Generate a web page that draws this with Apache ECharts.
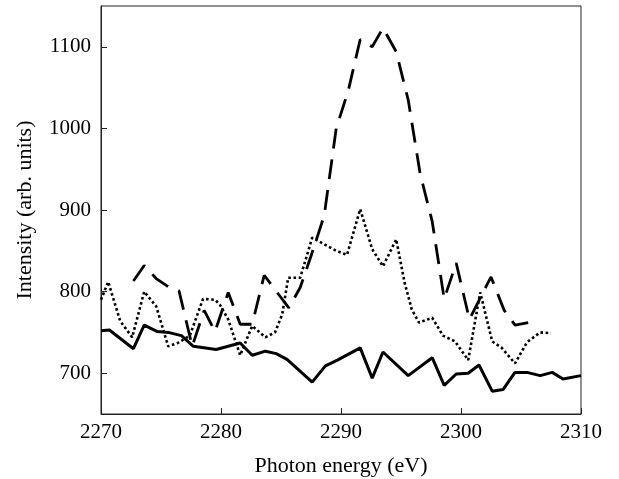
<!DOCTYPE html>
<html>
<head>
<meta charset="utf-8">
<script src="https://cdn.jsdelivr.net/npm/echarts@6/dist/echarts.min.js"></script>
<style>
html,body{margin:0;padding:0;background:#fff;}
#chart{width:619px;height:479px;}
</style>
</head>
<body>
<div id="chart"></div>
<script>
// Photon energy (eV) / intensity pairs
var solidE = [2270, 2270.7, 2272.7, 2273.6, 2274.7, 2275.6, 2276.7, 2277.7, 2279.6, 2281.6, 2282.6, 2283.7, 2284.6, 2285.5, 2286.4, 2287.6, 2288.7, 2289.7, 2291.6, 2292.6, 2293.5, 2295.6, 2297.6, 2298.6, 2299.6, 2300.6, 2301.5, 2302.6, 2303.5, 2304.5, 2305.5, 2306.6, 2307.6, 2308.5, 2310];
var solidV = [752, 753, 730, 759, 751, 750, 746, 733, 729, 737, 722, 727, 724, 717, 705, 689, 709, 716, 731, 694, 726, 697, 719, 685, 699, 700, 710, 678, 680, 701, 701, 697, 701, 693, 697];

var dashE = [2272.7, 2273.6, 2274.6, 2275.6, 2276.5, 2277.6, 2278.6, 2279.5, 2280.6, 2281.6, 2282.6, 2283.6, 2285.65, 2286.6, 2287.6, 2288.6, 2289.6, 2290.6, 2291.6, 2292.6, 2293.5, 2294.6, 2295.6, 2296.6, 2297.6, 2298.6, 2299.6, 2300.7, 2302.5, 2303.6, 2304.5, 2305.6];
var dashV = [813, 832, 816, 806, 801, 733, 777, 751, 799, 760, 760, 820, 780, 805, 848, 893, 1000, 1046, 1109, 1100, 1123, 1094, 1035, 944, 886, 791, 835, 766, 818, 777, 759, 762];

var dotE = [2270, 2270.6, 2271.6, 2272.6, 2273.6, 2274.6, 2275.6, 2276.4, 2277.4, 2278.5, 2279.5, 2279.9, 2280.6, 2281.6, 2282.6, 2283.7, 2284.5, 2285.1, 2285.6, 2286.6, 2287.6, 2288.6, 2289.6, 2290.5, 2291.6, 2292.6, 2293.5, 2294.6, 2295.3, 2295.9, 2296.5, 2297.6, 2298.5, 2299.5, 2300.6, 2301.6, 2302.6, 2303.4, 2304.5, 2305.5, 2306.6, 2307.5];
var dotV = [790, 812, 764, 744, 800, 782, 733, 737, 746, 791, 790, 784, 766, 722, 758, 744, 750, 772, 817, 817, 866, 858, 850, 845, 901, 852, 831, 864, 811, 778, 762, 768, 746, 739, 716, 799, 739, 731, 712, 738, 750, 749];

var xTicks = [2270, 2280, 2290, 2300, 2310];
var yTicks = [700, 800, 900, 1000, 1100];

function pairs(xs, ys) { return xs.map(function (x, i) { return [x, ys[i]]; }); }
function plain(v) { return String(v); }

var font = 'Liberation Serif';
var chart = echarts.init(document.getElementById('chart'));
chart.setOption({
  animation: false,
  backgroundColor: '#fff',
  grid: { left: 101, right: 38, top: 6, bottom: 65, containLabel: false, outerBoundsMode: 'none', show: true, borderColor: '#222', borderWidth: 1, backgroundColor: 'transparent' },
  xAxis: {
    type: 'value', min: 2270, max: 2310, interval: 10,
    name: 'Photon energy (eV)', nameLocation: 'middle', nameGap: 41,
    nameTextStyle: { fontFamily: font, fontSize: 22, color: '#000' },
    axisLine: { lineStyle: { color: '#222', width: 1 } },
    axisTick: { inside: true, length: 6, lineStyle: { color: '#222' }, customValues: xTicks },
    axisLabel: { fontFamily: font, fontSize: 21, color: '#000', margin: 8, customValues: xTicks, formatter: plain },
    splitLine: { show: false }
  },
  yAxis: {
    type: 'value', min: 650, max: 1150, interval: 50,
    name: 'Intensity (arb. units)', nameLocation: 'middle', nameGap: 65,
    nameTextStyle: { fontFamily: font, fontSize: 22, color: '#000' },
    axisLine: { show: true, lineStyle: { color: '#222', width: 1 } },
    axisTick: { show: true, inside: true, length: 6, lineStyle: { color: '#222' }, customValues: yTicks },
    axisLabel: { fontFamily: font, fontSize: 21, color: '#000', margin: 10, customValues: yTicks, formatter: plain },
    splitLine: { show: false }
  },
  series: [
    { type: 'line', data: pairs(solidE, solidV), showSymbol: false, lineStyle: { color: '#000', width: 3 }, z: 3 },
    { type: 'line', data: pairs(dashE, dashV), showSymbol: false, lineStyle: { color: '#000', width: 2.8, type: [20, 11] }, z: 3 },
    { type: 'line', data: pairs(dotE, dotV), showSymbol: false, lineStyle: { color: '#000', width: 2.6, type: [2.6, 2.6] }, z: 3 }
  ]
});
</script>
</body>
</html>
